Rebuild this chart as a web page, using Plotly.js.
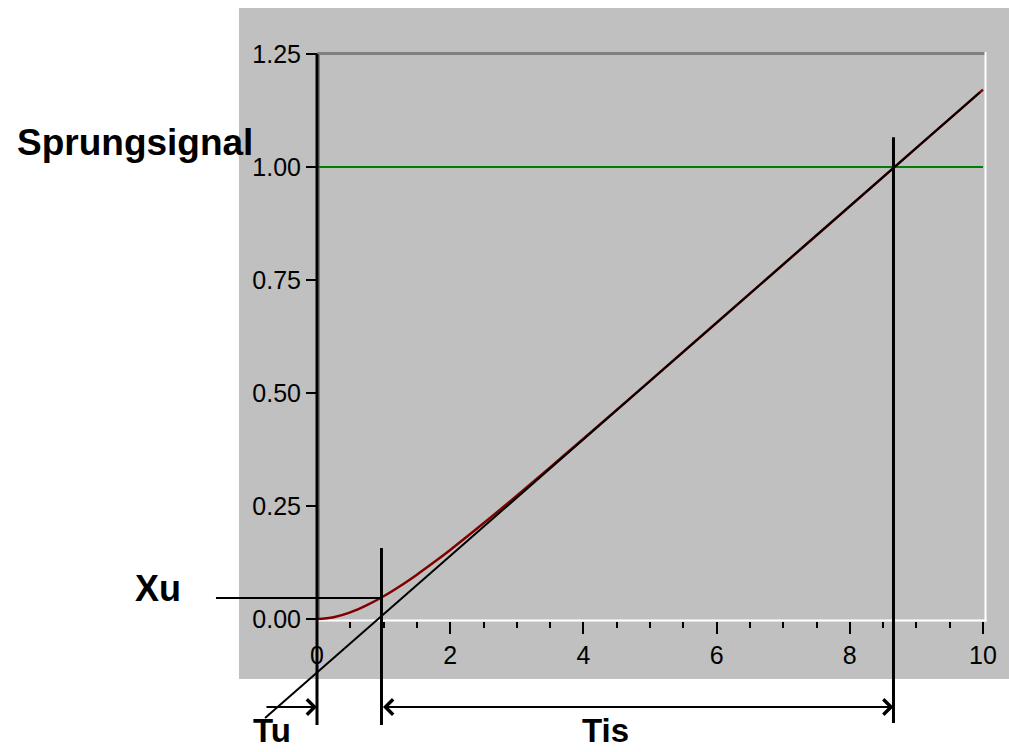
<!DOCTYPE html>
<html>
<head>
<meta charset="utf-8">
<script src="https://cdn.plot.ly/plotly-3.0.1.min.js"></script>
<style>html,body{margin:0;padding:0;background:#fff;}#chart{width:1009px;height:752px;}</style>
</head>
<body>
<div id="chart"></div>
<script>
// ---- data ----
var curveX = [0, 0.25, 0.5, 0.75, 1.0, 1.25, 1.5, 1.75, 2, 2.5, 3, 3.5, 4, 5, 6, 7, 8, 9, 10];
var curveY = [0, 0.0040, 0.0147, 0.0306, 0.0503, 0.0731, 0.0981, 0.1248, 0.1528, 0.2117, 0.2729, 0.3355, 0.3989, 0.5268, 0.6555, 0.7844, 0.9133, 1.0423, 1.1713];
var tangentX = [-0.78, 9.95];
var tangentY = [-0.219, 1.165];
var stepX = [0, 10];
var stepY = [1, 1];
var Tu = 0.968;          // end of dead time
var TisEnd = 8.656;      // where tangent reaches 1.0
var Xu = 0.0465;
var xTickVals = [0, 2, 4, 6, 8, 10];
var xTickText = ['0', '2', '4', '6', '8', '10'];
var xMinorVals = [0.5, 1, 1.5, 2.5, 3, 3.5, 4.5, 5, 5.5, 6.5, 7, 7.5, 8.5, 9, 9.5];
var yTickVals = [0, 0.25, 0.5, 0.75, 1.0, 1.25];
var yTickText = ['0.00', '0.25', '0.50', '0.75', '1.00', '1.25'];
var labels = {signal: 'Sprungsignal', xu: 'Xu', tu: 'Tu', tis: 'Tis'};

// ---- geometry (pixels) ----
var W = 1009, H = 752;
var X0PX = 317, PXX = 66.6;   // x=0 pixel, pixels per x unit
var Y0PX = 619, PXY = 452;    // y=0 pixel, pixels per y unit
function px(p) { return p / W; }
function py(p) { return 1 - p / H; }
var xRange = [-X0PX / PXX, (W - X0PX) / PXX];
var yRange = [-(H - Y0PX) / PXY, Y0PX / PXY];

var lowY = -0.2345;   // bottom of marker lines
var arrowY = -0.1947;

var black = '#000000';
var traces = [
  {x: stepX, y: stepY, mode: 'lines', line: {color: '#008000', width: 2}},
  {x: curveX, y: curveY, mode: 'lines', line: {color: '#800000', width: 2.5, shape: 'spline'}},
  {x: tangentX, y: tangentY, mode: 'lines', line: {color: black, width: 2}},
  {x: [0, 0], y: [yTickVals[yTickVals.length - 1], lowY], mode: 'lines', line: {color: black, width: 3}},
  {x: [Tu, Tu], y: [0.157, lowY], mode: 'lines', line: {color: black, width: 3}},
  {x: [TisEnd, TisEnd], y: [1.066, -0.230], mode: 'lines', line: {color: black, width: 3}},
  {x: [-1.517, Tu], y: [Xu, Xu], mode: 'lines', line: {color: black, width: 2}}
];
traces.forEach(function (t) { t.hoverinfo = 'skip'; t.showlegend = false; });

var tickFont = {family: 'Liberation Sans, Arial, sans-serif', size: 25, color: black};
var boldFont = function (s) { return {family: 'Liberation Sans, Arial, sans-serif', size: s, color: black, weight: 'bold'}; };

var layout = {
  width: W, height: H,
  margin: {l: 0, r: 0, t: 0, b: 0, pad: 0},
  paper_bgcolor: '#ffffff',
  plot_bgcolor: 'rgba(0,0,0,0)',
  showlegend: false,
  xaxis: {
    range: xRange, fixedrange: true, anchor: 'free', position: py(621), side: 'bottom',
    tickmode: 'array', tickvals: xTickVals, ticktext: xTickText,
    ticks: 'outside', ticklen: 12, tickwidth: 2, tickcolor: black,
    tickfont: tickFont, showgrid: false, zeroline: false, showline: false,
    minor: {tickmode: 'array', tickvals: xMinorVals, ticks: 'outside', ticklen: 6, tickwidth: 2, tickcolor: black, showgrid: false}
  },
  yaxis: {
    range: yRange, fixedrange: true, anchor: 'free', position: px(X0PX), side: 'left',
    tickmode: 'array', tickvals: yTickVals, ticktext: yTickText,
    ticks: 'outside', ticklen: 11, tickwidth: 2, tickcolor: black,
    tickfont: tickFont, showgrid: false, zeroline: false, showline: false
  },
  shapes: [
    {type: 'rect', xref: 'paper', yref: 'paper', x0: px(239), x1: px(1009), y0: py(679), y1: py(8), fillcolor: '#c0c0c0', line: {width: 0}, layer: 'below'},
    {type: 'line', xref: 'paper', yref: 'paper', x0: px(317), x1: px(986), y0: py(53.5), y1: py(53.5), line: {color: '#808080', width: 3}, layer: 'below'},
    {type: 'line', xref: 'paper', yref: 'paper', x0: px(319), x1: px(319), y0: py(53), y1: py(620), line: {color: '#808080', width: 2}, layer: 'below'},
    {type: 'line', xref: 'paper', yref: 'paper', x0: px(985.5), x1: px(985.5), y0: py(52), y1: py(621.5), line: {color: '#ffffff', width: 2}, layer: 'below'},
    {type: 'line', xref: 'paper', yref: 'paper', x0: px(317), x1: px(986.5), y0: py(620.5), y1: py(620.5), line: {color: '#ffffff', width: 2}, layer: 'below'}
  ],
  annotations: [
    {xref: 'paper', yref: 'paper', x: px(15), y: py(142), xanchor: 'left', yanchor: 'middle', text: labels.signal, showarrow: false, font: boldFont(37)},
    {xref: 'paper', yref: 'paper', x: px(133), y: py(588), xanchor: 'left', yanchor: 'middle', text: labels.xu, showarrow: false, font: boldFont(36)},
    {xref: 'paper', yref: 'paper', x: px(251), y: py(751), xanchor: 'left', yanchor: 'bottom', text: labels.tu, showarrow: false, font: boldFont(33)},
    {xref: 'paper', yref: 'paper', x: px(580), y: py(751), xanchor: 'left', yanchor: 'bottom', text: labels.tis, showarrow: false, font: boldFont(33)},
    {xref: 'x', yref: 'y', axref: 'x', ayref: 'y', x: 0, y: arrowY, ax: -0.781, ay: arrowY, text: '', showarrow: true,
     arrowhead: 4, arrowsize: 1.5, arrowwidth: 2, arrowcolor: black, standoff: 0},
    {xref: 'x', yref: 'y', axref: 'x', ayref: 'y', x: TisEnd, y: arrowY, ax: Tu, ay: arrowY, text: '', showarrow: true,
     arrowhead: 4, startarrowhead: 4, arrowside: 'end+start', arrowsize: 1.5, startarrowsize: 1.5, arrowwidth: 2, arrowcolor: black, standoff: 0, startstandoff: 0}
  ]
};

Plotly.newPlot('chart', traces, layout, {staticPlot: true, displayModeBar: false});
</script>
</body>
</html>
